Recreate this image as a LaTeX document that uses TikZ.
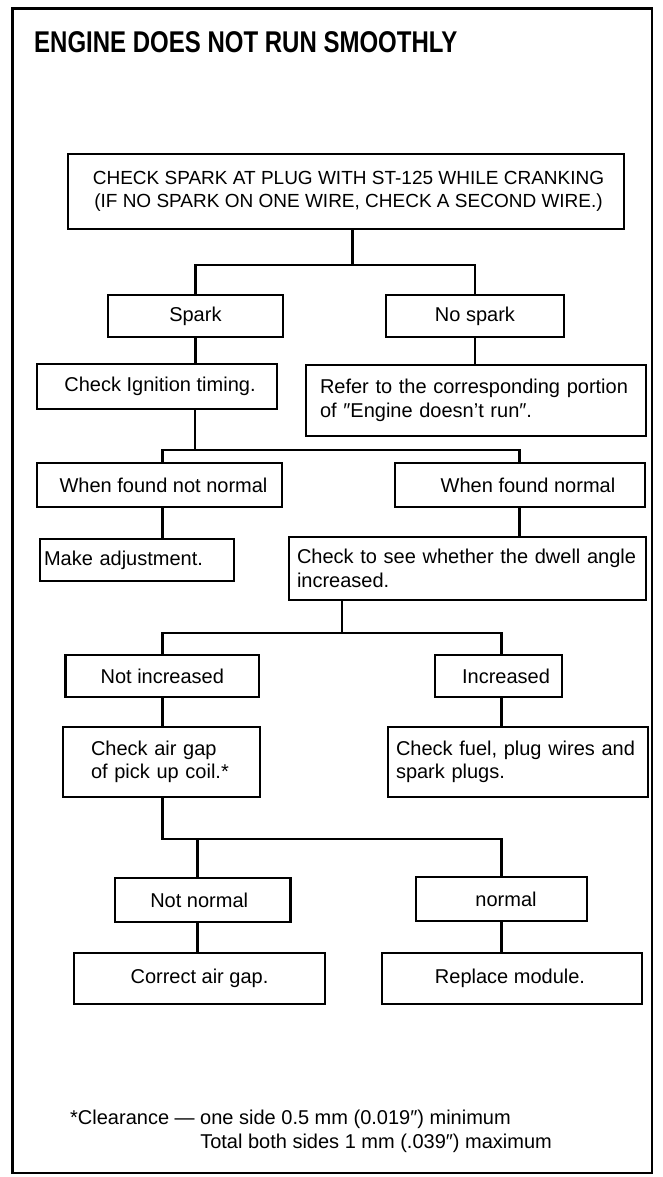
\documentclass[tikz,border=0pt]{standalone}
\usepackage{fontspec}
\setmainfont{Liberation Sans}
\begin{document}
\begin{tikzpicture}[x=1pt,y=-1pt,
  box/.style={draw, line width=2.6pt, inner sep=0pt, font=\fontsize{20}{23.5}\selectfont},
  lbox/.style={box, align=left, execute at begin node={\hyphenpenalty=10000}},
  link/.style={line width=2.5pt},
  frame/.style={line width=2.5pt}
]
\useasboundingbox (0,0) rectangle (662,1177);
\draw[frame] (12.7,8.5) rectangle (652,1173);

% heading
\node[anchor=west, inner sep=0pt, font=\fontsize{24}{24}\selectfont\bfseries] (title) at (34,42.5)
  {\scalebox{1}[1.25]{ENGINE DOES NOT RUN SMOOTHLY}};

% boxes
\node[box, align=center, font=\fontsize{19}{23}\selectfont, minimum width=556pt, minimum height=75pt] (top) at (346,191.5)
  {\hspace*{5pt}CHECK SPARK AT PLUG WITH ST-125 WHILE CRANKING\\\hspace*{5pt}(IF NO SPARK ON ONE WIRE, CHECK A SECOND WIRE.)};
\node[box, minimum width=175pt, minimum height=42pt] (spark) at (195.4,316) {Spark};
\node[box, minimum width=178pt, minimum height=42pt] (nospark) at (475,316) {No spark};
\node[box, minimum width=240pt, minimum height=45pt] (ign) at (157,386.5) {\hspace*{6pt}Check Ignition timing.};
\node[lbox, text width=312pt, minimum width=340pt, minimum height=71pt] (refer) at (476,400.5)
  {Refer to the corresponding portion\\of ″Engine doesn’t run″.};
\node[box, minimum width=245pt, minimum height=44pt] (fnn) at (159.5,485) {\hspace*{8pt}When found not normal};
\node[box, minimum width=250pt, minimum height=44pt] (fn) at (520,485) {\hspace*{16pt}When found normal};
\node[lbox, text width=186pt, minimum width=194pt, minimum height=42pt] (madj) at (137,560) {Make adjustment.};
\node[lbox, text width=341pt, minimum width=357pt, minimum height=63pt] (chk) at (467.5,568.5)
  {Check to see whether the dwell angle\\increased.};
\node[box, minimum width=193.5pt, minimum height=42pt] (ninc) at (162.3,676) {Not increased};
\node[box, minimum width=127pt, minimum height=42pt] (inc) at (498.5,676) {\hspace*{15pt}Increased};
\node[lbox, text width=141pt, minimum width=197pt, minimum height=70pt] (gap) at (161.5,762)
  {Check air gap\\of pick up coil.*};
\node[lbox, text width=244pt, minimum width=260pt, minimum height=70pt] (fuel) at (518,762)
  {Check fuel, plug wires and\\spark plugs.};
\node[box, minimum width=175.5pt, minimum height=44pt] (nn) at (202.7,900) {Not normal\hspace*{7pt}};
\node[box, minimum width=171pt, minimum height=44pt] (nrm) at (501.5,899) {\hspace*{9pt}normal};
\node[box, minimum width=251pt, minimum height=51pt] (cag) at (199.5,978.5) {Correct air gap.};
\node[box, minimum width=260pt, minimum height=51pt] (rep) at (512,978.5) {Replace module.\hspace*{4pt}};

% branch points
\coordinate (j1) at (352.6,265);
\coordinate (j2) at (195,450);
\coordinate (j2l) at (162.6,450);
\coordinate (j2r) at (519.4,450);
\coordinate (j3) at (342,633);
\coordinate (j3l) at (162.6,633);
\coordinate (j3r) at (501.7,633);
\coordinate (j4l) at (162.6,839);
\coordinate (j4a) at (197.6,839);
\coordinate (j4r) at (501.7,839);

% connectors
\draw[link] (top.south -| j1) -- (j1);
\draw[link] (spark.north) |- (j1) -| (nospark.north);
\draw[link] (spark.south) -- (spark.south |- ign.north);
\draw[link] (nospark.south) -- (nospark.south |- refer.north);
\draw[link] (ign.south -| j2) -- (j2);
\draw[link] (j2l |- fnn.north) -- (j2l) -- (j2r) -- (j2r |- fn.north);
\draw[link] (fnn.south -| j2l) -- (j2l |- madj.north);
\draw[link] (fn.south -| j2r) -- (j2r |- chk.north);
\draw[link] (chk.south -| j3) -- (j3);
\draw[link] (j3l |- ninc.north) -- (j3l) -- (j3r) -- (j3r |- inc.north);
\draw[link] (ninc.south -| j3l) -- (j3l |- gap.north);
\draw[link] (inc.south -| j3r) -- (j3r |- fuel.north);
\draw[link] (gap.south -| j4l) -- (j4l) -- (j4r) -- (j4r |- nrm.north);
\draw[link] (j4a) -- (j4a |- nn.north);
\draw[link] (nn.south -| j4a) -- (j4a |- cag.north);
\draw[link] (nrm.south -| j4r) -- (j4r |- rep.north);

% footnote
\node[anchor=west, inner sep=0pt, align=left, font=\fontsize{20}{24}\selectfont] (note) at (70,1131)
  {*Clearance — one side 0.5 mm (0.019″) minimum\\
   \phantom{*Clearance — }Total both sides 1 mm (.039″) maximum};
\end{tikzpicture}
\end{document}
